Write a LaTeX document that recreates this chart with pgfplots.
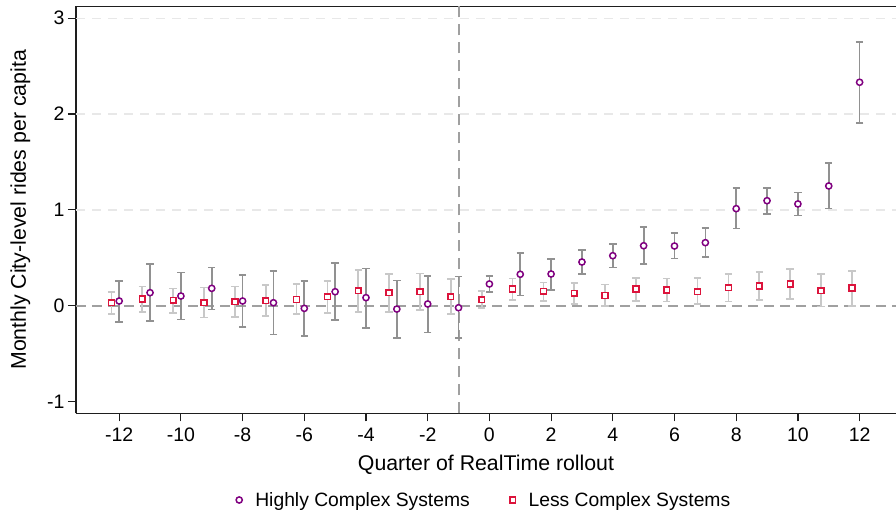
\documentclass[border=0pt]{standalone}
\usepackage{pgfplots}
\usepackage{pgfplotstable}
\pgfplotsset{compat=1.18}
\usepackage{fontspec}
\setmainfont{Liberation Sans}
\definecolor{hc}{RGB}{128,0,128}
\definecolor{lc}{RGB}{220,20,60}
\definecolor{cidark}{RGB}{145,145,145}
\definecolor{cilight}{RGB}{200,200,200}
\definecolor{gridc}{RGB}{232,232,232}
\definecolor{refc}{RGB}{160,160,160}
\definecolor{axc}{RGB}{30,30,30}
\pgfplotsset{markleg/.style={legend image code/.code={\draw[##1] plot coordinates {(0pt,0pt)};}}}

\pgfplotstableread{
x y lo hi
-12 0.049 -0.167 0.255
-11 0.136 -0.157 0.435
-10 0.101 -0.142 0.345
-9 0.181 -0.038 0.400
-8 0.049 -0.222 0.323
-7 0.031 -0.299 0.365
-6 -0.028 -0.316 0.261
-5 0.146 -0.149 0.443
-4 0.084 -0.230 0.390
-3 -0.035 -0.340 0.265
-2 0.018 -0.278 0.313
-1 -0.021 -0.337 0.303
0 0.227 0.143 0.310
1 0.328 0.108 0.547
2 0.331 0.167 0.490
3 0.456 0.331 0.581
4 0.522 0.397 0.641
5 0.626 0.438 0.820
6 0.623 0.491 0.756
7 0.658 0.511 0.808
8 1.013 0.804 1.229
9 1.096 0.960 1.229
10 1.062 0.940 1.180
11 1.250 1.013 1.490
12 2.332 1.910 2.750
}\highly

\pgfplotstableread{
x y lo hi
-12.25 0.031 -0.087 0.146
-11.25 0.070 -0.066 0.202
-10.25 0.056 -0.076 0.181
-9.25 0.031 -0.125 0.188
-8.25 0.042 -0.118 0.202
-7.25 0.052 -0.107 0.216
-6.25 0.066 -0.087 0.227
-5.25 0.094 -0.073 0.261
-4.25 0.157 -0.063 0.373
-3.25 0.136 -0.063 0.331
-2.25 0.146 -0.042 0.338
-1.25 0.094 -0.087 0.279
-0.25 0.063 -0.021 0.153
0.75 0.174 0.060 0.286
1.75 0.150 0.049 0.244
2.75 0.129 0.018 0.234
3.75 0.108 0.000 0.223
4.75 0.174 0.052 0.292
5.75 0.164 0.046 0.282
6.75 0.146 0.018 0.289
7.75 0.188 0.042 0.331
8.75 0.206 0.060 0.352
9.75 0.227 0.073 0.380
10.75 0.157 -0.010 0.331
11.75 0.185 0.000 0.365
}\less

\begin{document}
\begin{tikzpicture}
\begin{axis}[
  name=ax,
  scale only axis, width=820pt, height=407.2pt,
  xmin=-13.4, xmax=13.18, ymin=-1.125, ymax=3.125,
  axis x line=box, axis y line=left,
  axis line style={-, line width=1.4pt, color=axc},
  xtick={-12,-10,...,12},
  xticklabels={-12,-10,-8,-6,-4,-2,0,2,4,6,8,10,12},
  ytick={-1,0,1,2,3}, yticklabels={-1,0,1,2,3},
  xtick pos=left, ytick pos=left,
  tick align=outside, major tick length=8pt,
  tick style={line width=1.2pt, color=axc},
  ticklabel style={font=\fontsize{19.5}{22}\selectfont},
  xticklabel style={anchor=base, yshift=-20pt},
  xlabel={Quarter of RealTime rollout},
  xlabel style={font=\fontsize{21.3}{24}\selectfont, at={(axis description cs:0.5,-0.1388)}, anchor=base},
  ylabel={Monthly City-level rides per capita},
  ylabel style={font=\fontsize{21.3}{24}\selectfont, at={(axis description cs:-0.0677,0.5)}, anchor=center},
  legend columns=2,
  legend style={at={(axis description cs:0.195,-0.2124)}, anchor=west, draw=none, fill=none,
    inner sep=0pt, font=\fontsize{19.3}{22}\selectfont,
    /tikz/every even column/.append style={column sep=38pt}},
  markleg,
  clip=false,
]
\addplot[forget plot, gridc, line width=1.3pt, dash pattern=on 9pt off 7pt] coordinates {(-13.4,1) (13.18,1)};
\addplot[forget plot, gridc, line width=1.3pt, dash pattern=on 9pt off 7pt] coordinates {(-13.4,2) (13.18,2)};
\addplot[forget plot, gridc, line width=1.3pt, dash pattern=on 9pt off 7pt] coordinates {(-13.4,3) (13.18,3)};
\addplot[forget plot, refc, line width=1.8pt, dash pattern=on 10pt off 6pt] coordinates {(-13.4,0) (13.18,0)};
\addplot[forget plot, refc, line width=2pt, dash pattern=on 11pt off 7pt] coordinates {(-1,-1.125) (-1,3.125)};

% confidence intervals (drawn first, behind the markers)
\addplot[forget plot, only marks, mark=none,
  error bars/.cd, y dir=both, y explicit,
  error bar style={line width=1.7pt, draw=cidark},
  error mark options={rotate=90, line width=1.6pt, draw=cidark, mark size=3.7pt}]
  table[x=x, y=y, y error plus expr=\thisrow{hi}-\thisrow{y}, y error minus expr=\thisrow{y}-\thisrow{lo}] {\highly};
\addplot[forget plot, only marks, mark=none,
  error bars/.cd, y dir=both, y explicit,
  error bar style={line width=1.7pt, draw=cilight},
  error mark options={rotate=90, line width=1.6pt, draw=cilight, mark size=3.7pt}]
  table[x=x, y=y, y error plus expr=\thisrow{hi}-\thisrow{y}, y error minus expr=\thisrow{y}-\thisrow{lo}] {\less};

% point estimates
\addplot[only marks, mark=*, mark size=3.1pt, mark options={draw=hc, fill=white, line width=1.5pt}]
  table[x=x, y=y] {\highly};
\addlegendentry{\hspace{11pt}Highly Complex Systems}
\addplot[only marks, mark=square*, mark size=2.9pt, mark options={draw=lc, fill=white, line width=1.5pt}]
  table[x=x, y=y] {\less};
\addlegendentry{\hspace{11pt}Less Complex Systems}
\end{axis}
\pgfresetboundingbox
\path[use as bounding box] ([shift={(-76pt,-107.5pt)}]ax.south west) rectangle ([shift={(820pt,413.5pt)}]ax.south west);
\end{tikzpicture}
\end{document}
